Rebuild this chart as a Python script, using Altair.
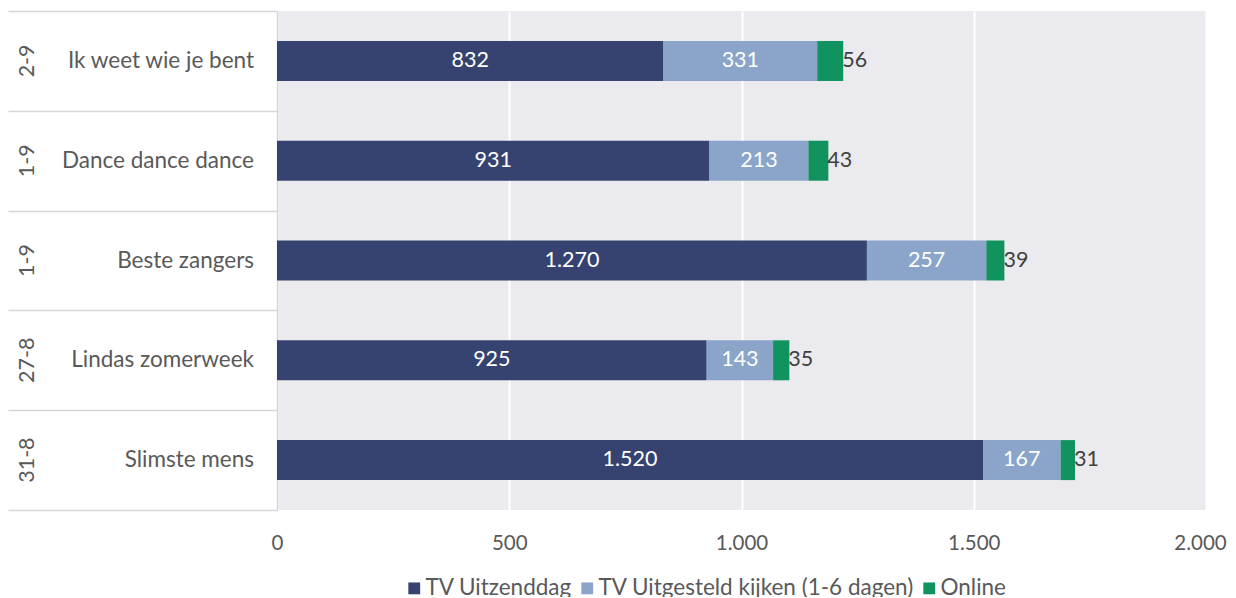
import altair as alt
import pandas as pd

programs = ["Ik weet wie je bent", "Dance dance dance", "Beste zangers", "Lindas zomerweek", "Slimste mens"]
dates = ["2-9", "1-9", "1-9", "27-8", "31-8"]
series = ["TV Uitzenddag", "TV Uitgesteld kijken (1-6 dagen)", "Online"]
tv_day = [832, 931, 1270, 925, 1520]
tv_delayed = [331, 213, 257, 143, 167]
online = [56, 43, 39, 35, 31]
x_ticks = [0, 500, 1000, 1500, 2000]
colors = ["#36426f", "#8aa5c9", "#10935f"]

rows = []
for i, p in enumerate(programs):
    for j, (s, vals) in enumerate(zip(series, [tv_day, tv_delayed, online])):
        rows.append({"program": p, "date": dates[i], "series": s, "idx": j, "value": vals[i]})
df = pd.DataFrame(rows)
df_prog = pd.DataFrame({"program": programs, "date": dates})

FONT = "Lato"
TXT = "#595959"
NUM = 21.5
AXN = 20.5
LBL = 22.5
fmt = "replace(format(datum.value, ','), ',', '.')"

yenc = alt.Y("program:N", sort=programs, title=None,
             scale=alt.Scale(paddingInner=0, paddingOuter=0),
             axis=alt.Axis(labels=False, ticks=True, tickBand="extent", tickSize=269,
                           tickColor="#d6d6d6", tickWidth=1.5, domainColor="#d6d6d6",
                           domainWidth=1.5, grid=False))
yplain = alt.Y("program:N", sort=programs, title=None)

bars = alt.Chart(df).mark_bar(height=40).encode(
    x=alt.X("value:Q", stack="zero", title=None,
            scale=alt.Scale(domain=[0, 2000], nice=False),
            axis=alt.Axis(values=x_ticks, labelExpr=fmt, domain=False, ticks=False,
                          gridColor="white", gridWidth=2, labelFontSize=AXN,
                          labelFont=FONT, labelColor=TXT, labelPadding=23,
                          labelFlush=False,
                          labelOffset=alt.ConditionalAxisNumber(
                              condition={"test": "datum.value == 2000", "value": -6},
                              value=0))),
    y=yenc,
    color=alt.Color("series:N", scale=alt.Scale(domain=series, range=colors),
                    legend=alt.Legend(title=None, orient="none", legendX=126, legendY=566,
                                      direction="horizontal", symbolType="square",
                                      symbolSize=140, symbolStrokeWidth=0,
                                      labelFontSize=LBL, labelFont=FONT, labelColor=TXT,
                                      labelLimit=0, columnPadding=3, labelOffset=0)),
    order=alt.Order("idx:Q", sort="ascending"),
)

stacked = alt.Chart(df).transform_stack(
    stack="value", as_=["x0", "x1"], groupby=["program"],
    sort=[alt.SortField("idx", order="ascending")]
).transform_calculate(
    mid="(datum.x0 + datum.x1) / 2",
    label=fmt,
)

inner = stacked.transform_filter("datum.idx < 2").mark_text(
    color="white", fontSize=NUM, font=FONT, baseline="middle"
).encode(x=alt.X("mid:Q", title=None), y=yplain, text="label:N")

outer = stacked.transform_filter("datum.idx == 2").mark_text(
    color="#404040", fontSize=NUM, font=FONT, align="left", baseline="middle", dx=-1
).encode(x=alt.X("x1:Q", title=None), y=yplain, text="label:N")

names = alt.Chart(df_prog).mark_text(
    align="right", baseline="middle", fontSize=LBL, font=FONT, color=TXT
).encode(x=alt.value(-23), y=yplain, text="program:N")

date_lbl = alt.Chart(df_prog).mark_text(
    align="center", baseline="middle", fontSize=NUM, font=FONT, color=TXT, angle=270
).encode(x=alt.value(-249), y=yplain, text="date:N")

chart = alt.layer(bars, inner, outer, names, date_lbl).properties(
    width=929, height=499,
    autosize=alt.AutoSizeParams(type="none"),
    padding={"left": 269, "top": 3, "right": 22, "bottom": 87},
).configure(background="white").configure_view(fill="#ebebef", strokeWidth=0)

chart.save("out.html", embed_options={"renderer": "svg", "actions": False})
